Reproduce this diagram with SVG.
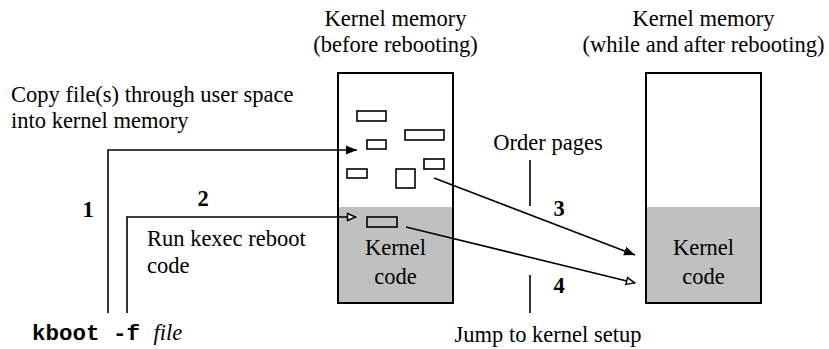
<svg xmlns="http://www.w3.org/2000/svg" width="829" height="349" viewBox="0 0 829 349">
<style>
text{font-family:"Liberation Serif","Times New Roman",serif;font-size:22.5px;fill:#000}
.c{text-anchor:middle}
.b{font-weight:bold}
.mono{font-family:"Liberation Mono","Courier New",monospace;font-weight:bold}
.it{font-style:italic}
.box{fill:#fff;stroke:#000;stroke-width:2}
.gray{fill:#c0c0c0;stroke:none}
.sm{fill:none;stroke:#000;stroke-width:1.6}
.ln{fill:none;stroke:#000;stroke-width:1.6}
</style>
<defs>
<marker id="fill" markerUnits="userSpaceOnUse" markerWidth="12" markerHeight="10" refX="11" refY="5" orient="auto">
<path d="M0,0.5 L11,5 L0,9.5 z" fill="#000"/>
</marker>
<marker id="open" markerUnits="userSpaceOnUse" markerWidth="12" markerHeight="10" refX="10" refY="5" orient="auto">
<path d="M1.5,1.5 L9.5,5 L1.5,8.5 z" fill="#fff" stroke="#000" stroke-width="1.5"/>
</marker>
</defs>

<g id="mem-before">
<rect class="box" x="338" y="73" width="115" height="230"/>
<rect class="gray" x="339" y="207" width="113" height="95"/>
<rect class="sm" x="357" y="111" width="29" height="10"/>
<rect class="sm" x="405" y="130" width="39" height="10"/>
<rect class="sm" x="367" y="140" width="19" height="9"/>
<rect class="sm" x="424" y="159" width="20" height="10"/>
<rect class="sm" x="347" y="169" width="20" height="9"/>
<rect class="sm" x="396" y="169" width="19" height="19"/>
<rect class="sm" x="367" y="217" width="30" height="10"/>
<text class="c" x="395.5" y="255">Kernel</text>
<text class="c" x="395.5" y="284">code</text>
<text class="c" x="395.5" y="26">Kernel memory</text>
<text class="c" x="395.5" y="52">(before rebooting)</text>
</g>

<g id="mem-after">
<rect class="box" x="646" y="73" width="115" height="230"/>
<rect class="gray" x="647" y="207" width="113" height="95"/>
<text class="c" x="703.5" y="255">Kernel</text>
<text class="c" x="703.5" y="284">code</text>
<text class="c" x="703.5" y="26">Kernel memory</text>
<text class="c" x="703.5" y="52">(while and after rebooting)</text>
</g>

<g id="labels">
<text x="11" y="102">Copy file(s) through user space</text>
<text x="11" y="128">into kernel memory</text>
<text class="c b" x="88" y="217">1</text>
<text class="c b" x="203" y="206">2</text>
<text x="147" y="246">Run kexec reboot</text>
<text x="147" y="273">code</text>
<text class="c" x="548" y="150">Order pages</text>
<text class="c b" x="559" y="216">3</text>
<text class="c b" x="559" y="293">4</text>
<text class="c" x="548" y="342">Jump to kernel setup</text>
<text x="32" y="340"><tspan class="mono" xml:space="preserve">kboot -f </tspan><tspan class="it">file</tspan></text>
</g>

<g id="connectors">
<polyline class="ln" points="108,313 108,150 357,150" marker-end="url(#fill)"/>
<polyline class="ln" points="127,313 127,217 356,217" marker-end="url(#open)"/>
<line class="ln" x1="434" y1="178" x2="635" y2="255" marker-end="url(#fill)"/>
<line class="ln" x1="406" y1="227" x2="635" y2="283" marker-end="url(#open)"/>
<line class="ln" x1="530" y1="160" x2="530" y2="206"/>
<line class="ln" x1="530" y1="275" x2="530" y2="313"/>
</g>
</svg>
